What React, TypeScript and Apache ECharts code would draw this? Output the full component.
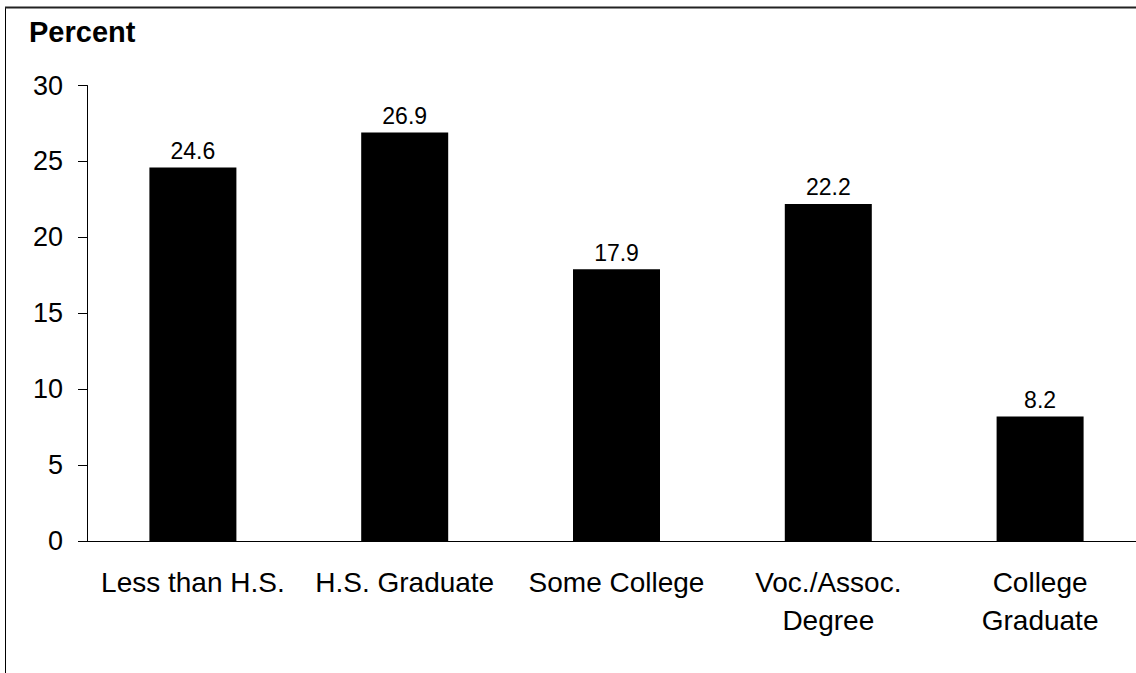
import React, { useEffect, useRef } from "react";
import * as echarts from "echarts";

const categories = [
  "Less than H.S.",
  "H.S. Graduate",
  "Some College",
  "Voc./Assoc.\nDegree",
  "College\nGraduate",
];
const values = [24.6, 26.9, 17.9, 22.2, 8.2];
const yTicks = { min: 0, max: 30, interval: 5 };
const yTitle = "Percent";

const FONT = "'Liberation Sans', Arial, sans-serif";

export default function App() {
  const ref = useRef<HTMLDivElement>(null);
  useEffect(() => {
    if (!ref.current) return;
    const chart = echarts.init(ref.current, null, { renderer: "svg" });
    chart.setOption({
      animation: false,
      backgroundColor: "#ffffff",
      grid: {
        left: 87,
        right: 0,
        top: 85.5,
        bottom: 132,
        containLabel: false,
        outerBoundsMode: "none",
      },
      graphic: [
        {
          type: "line",
          shape: { x1: 5.5, y1: 7.5, x2: 5.5, y2: 673 },
          style: { stroke: "#000", lineWidth: 1 },
        },
        {
          type: "line",
          shape: { x1: 5, y1: 7.5, x2: 1146, y2: 7.5 },
          style: { stroke: "#222", lineWidth: 2 },
        },
        {
          type: "text",
          left: 29,
          top: 17,
          style: {
            text: yTitle,
            font: `bold 29px ${FONT}`,
            fill: "#000",
          },
        },
      ],
      xAxis: {
        type: "category",
        data: categories,
        axisLine: { show: true, lineStyle: { color: "#000", width: 1 } },
        axisTick: { show: false },
        axisLabel: {
          color: "#000",
          fontFamily: FONT,
          fontSize: 28,
          lineHeight: 38,
          margin: 22,
          interval: 0,
        },
      },
      yAxis: {
        type: "value",
        min: yTicks.min,
        max: yTicks.max,
        interval: yTicks.interval,
        splitLine: { show: false },
        axisLine: { show: true, lineStyle: { color: "#000", width: 1 } },
        axisTick: { show: true, length: 9, lineStyle: { color: "#000" } },
        axisLabel: {
          color: "#000",
          fontFamily: FONT,
          fontSize: 27,
          margin: 24,
        },
      },
      series: [
        {
          type: "bar",
          data: values,
          barWidth: 87,
          itemStyle: { color: "#000" },
          label: {
            show: true,
            position: "top",
            distance: 5,
            color: "#000",
            fontFamily: FONT,
            fontSize: 23,
            formatter: (p: any) => Number(p.value).toFixed(1),
          },
        },
      ],
    });
    return () => chart.dispose();
  }, []);
  return (
    <div
      style={{ position: "absolute", left: 0, top: 0, width: 1136, height: 673, overflow: "hidden" }}
    >
      <div ref={ref} style={{ width: 1146, height: 673 }} />
    </div>
  );
}
